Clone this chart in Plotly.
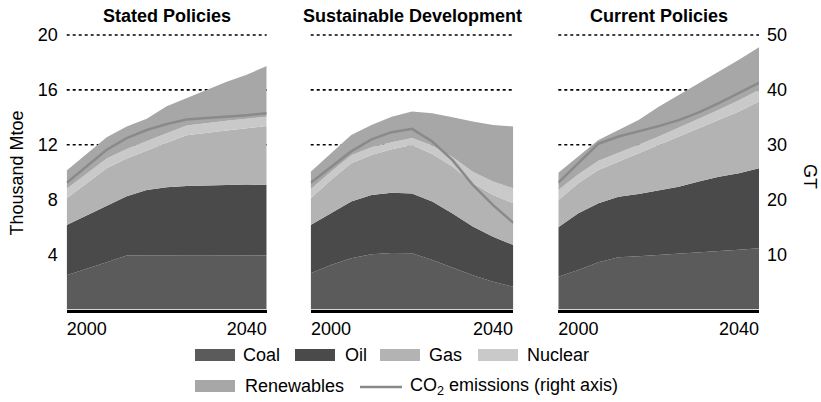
import plotly.graph_objects as go

# ---------------- data ----------------
years = [1995, 2000, 2005, 2010, 2015, 2020, 2025, 2030, 2035, 2040, 2045]
scenarios = ["Stated Policies", "Sustainable Development", "Current Policies"]
fuels = ["Coal", "Oil", "Gas", "Nuclear", "Renewables"]

# Thousand Mtoe
sp_coal = [2.5, 2.95, 3.45, 3.93, 3.95, 3.95, 3.95, 3.95, 3.95, 3.95, 3.93]
sp_oil = [3.66, 3.9, 4.15, 4.32, 4.75, 4.95, 5.05, 5.1, 5.13, 5.15, 5.15]
sp_gas = [1.94, 2.35, 2.7, 2.75, 2.9, 3.25, 3.7, 3.85, 3.97, 4.1, 4.29]
sp_nuclear = [0.7, 0.7, 0.7, 0.7, 0.7, 0.7, 0.7, 0.7, 0.7, 0.7, 0.68]
sp_renew = [1.32, 1.4, 1.55, 1.63, 1.6, 1.95, 2.0, 2.45, 2.85, 3.2, 3.7]
sp_co2 = [23.1, 26.1, 29.1, 31.2, 32.7, 33.8, 34.6, 34.9, 35.1, 35.4, 35.75]

sd_coal = [2.64, 3.25, 3.74, 4.02, 4.12, 4.1, 3.6, 3.07, 2.5, 2.03, 1.66]
sd_oil = [3.52, 3.75, 4.12, 4.33, 4.38, 4.35, 4.26, 3.93, 3.54, 3.27, 3.04]
sd_gas = [1.94, 2.44, 2.79, 2.91, 3.17, 3.54, 3.47, 3.41, 3.16, 3.05, 3.04]
sd_nuclear = [0.66, 0.6, 0.58, 0.56, 0.52, 0.5, 0.62, 0.7, 0.84, 0.97, 1.09]
sd_renew = [1.28, 1.34, 1.49, 1.63, 1.86, 1.93, 2.35, 2.89, 3.65, 4.13, 4.5]
sd_co2 = [23.1, 26.0, 28.8, 31.0, 32.3, 32.9, 30.6, 27.2, 22.7, 19.0, 15.8]

cp_coal = [2.39, 2.88, 3.45, 3.8, 3.88, 3.97, 4.05, 4.15, 4.25, 4.35, 4.47]
cp_oil = [3.6, 4.13, 4.29, 4.42, 4.54, 4.74, 4.9, 5.17, 5.43, 5.58, 5.82]
cp_gas = [1.99, 2.19, 2.43, 2.55, 2.96, 3.28, 3.65, 3.88, 4.13, 4.49, 4.86]
cp_nuclear = [0.73, 0.66, 0.66, 0.62, 0.62, 0.62, 0.64, 0.7, 0.75, 0.82, 0.85]
cp_renew = [1.26, 1.28, 1.52, 1.69, 1.81, 2.17, 2.39, 2.59, 2.77, 2.95, 3.11]
cp_co2 = [23.1, 26.6, 30.2, 31.5, 32.4, 33.4, 34.5, 35.9, 37.6, 39.4, 41.3]

left_ticks = [4, 8, 12, 16, 20]
grid_lines = [12, 16, 20]
right_ticks = [10, 20, 30, 40, 50]
x_ticks = [2000, 2040]

# ---------------- styling ----------------
W, H = 821, 402
OFF = 0
FONT = "Arial, Liberation Sans, Helvetica, sans-serif"
FS = 18
colors = {"Coal": "#5b5b5b", "Oil": "#4a4a4a", "Gas": "#b3b3b3",
          "Nuclear": "#c9c9c9", "Renewables": "#a7a7a7"}
co2_color = "#8a8a8a"

data = [
    (sp_coal, sp_oil, sp_gas, sp_nuclear, sp_renew, sp_co2),
    (sd_coal, sd_oil, sd_gas, sd_nuclear, sd_renew, sd_co2),
    (cp_coal, cp_oil, cp_gas, cp_nuclear, cp_renew, cp_co2),
]

def px_x(v):
    return (v - OFF) / W

def px_y(v):
    return (H - (v - OFF)) / H

panel_px = [(66.7, 266.7), (310.7, 513.3), (558.3, 759.0)]
# y range extends slightly above 20 so the top dotted grid line is fully drawn
YMAX = 20.12
PPU = (309.5 - 35.0) / 20.0
ydom = [px_y(309.5), px_y(309.5 - YMAX * PPU)]

fig = go.Figure()
shapes = []

for i, (vals, (x0, x1)) in enumerate(zip(data, panel_px)):
    n = i + 1
    xa = "x" if n == 1 else f"x{n}"
    ya = "y" if n == 1 else f"y{n}"
    ya2 = f"y{n + 3}"
    for fuel, v in zip(fuels, vals[:5]):
        fig.add_trace(go.Scatter(
            x=years, y=v, xaxis=xa, yaxis=ya, mode="lines",
            stackgroup=f"s{n}", line=dict(width=0, color=colors[fuel]),
            fillcolor=colors[fuel], showlegend=False, name=fuel))
    fig.add_trace(go.Scatter(
        x=years, y=vals[5], xaxis=xa, yaxis=ya2, mode="lines",
        line=dict(width=2.5, color=co2_color), showlegend=False,
        name="CO2 emissions"))

    # dotted gridlines drawn beneath the areas
    for g in grid_lines:
        shapes.append(dict(type="line", xref=f"{xa} domain", yref=ya,
                           x0=0, x1=1, y0=g, y1=g, layer="below",
                           line=dict(color="black", width=1.6, dash="dot")))

    xkey = "xaxis" if n == 1 else f"xaxis{n}"
    ykey = "yaxis" if n == 1 else f"yaxis{n}"
    fig.layout[xkey] = dict(
        domain=[px_x(x0), px_x(x1)], range=[years[0], years[-1]],
        anchor=ya, tickvals=x_ticks, ticktext=[str(t) for t in x_ticks],
        showgrid=False, zeroline=False, showline=True, linecolor="black",
        linewidth=3, ticks="", tickfont=dict(size=FS, color="black"),
        ticklabelstandoff=1, automargin=False)
    fig.layout[ykey] = dict(
        domain=ydom, range=[0, YMAX], anchor=xa, tickvals=left_ticks,
        showticklabels=(n == 1), showgrid=False, zeroline=False,
        showline=False, ticks="", tickfont=dict(size=FS, color="black"),
        ticklabelstandoff=8, automargin=False)
    fig.layout[f"yaxis{n + 3}"] = dict(
        overlaying=ya, range=[0, YMAX * 2.5], anchor=xa, side="right",
        tickvals=right_ticks, showticklabels=(n == 3), showgrid=False,
        zeroline=False, showline=False, ticks="",
        tickfont=dict(size=FS, color="black"), ticklabelstandoff=7,
        automargin=False)

annotations = []
for name, (x0, x1) in zip(scenarios, panel_px):
    annotations.append(dict(
        text=f"<b>{name}</b>", x=px_x((x0 + x1) / 2), y=px_y(16),
        xref="paper", yref="paper", xanchor="center", yanchor="middle",
        showarrow=False, font=dict(size=FS, color="black")))

annotations.append(dict(text="Thousand Mtoe", x=px_x(16.5), y=px_y(173),
                        xref="paper", yref="paper", textangle=-90,
                        xanchor="center", yanchor="middle", showarrow=False,
                        font=dict(size=FS, color="black")))
annotations.append(dict(text="GT", x=px_x(810), y=px_y(176),
                        xref="paper", yref="paper", textangle=90,
                        xanchor="center", yanchor="middle", showarrow=False,
                        font=dict(size=FS, color="black")))

# custom legend
legend_rows = [
    [("Coal", 195, 241), ("Oil", 295, 343), ("Gas", 380, 427), ("Nuclear", 478, 525)],
    [("Renewables", 195, 243)],
]
row_y = [355, 386]
for row, yc in zip(legend_rows, row_y):
    for fuel, sx, tx in row:
        shapes.append(dict(type="rect", xref="paper", yref="paper",
                           x0=px_x(sx), x1=px_x(sx + 40),
                           y0=px_y(yc + 6), y1=px_y(yc - 6),
                           fillcolor=colors[fuel], line=dict(width=0)))
        annotations.append(dict(text=fuel, x=px_x(tx), y=px_y(yc),
                                xref="paper", yref="paper", xanchor="left",
                                yanchor="middle", showarrow=False,
                                font=dict(size=FS, color="black")))
shapes.append(dict(type="line", xref="paper", yref="paper",
                   x0=px_x(360), x1=px_x(402), y0=px_y(387), y1=px_y(387),
                   line=dict(color=co2_color, width=2.5)))
annotations.append(dict(text="CO<sub>2</sub> emissions (right axis)",
                        x=px_x(408), y=px_y(386), xref="paper", yref="paper",
                        xanchor="left", yanchor="middle", showarrow=False,
                        font=dict(size=FS, color="black")))

fig.update_layout(
    template="none",
    width=W, height=H, margin=dict(l=0, r=0, t=0, b=0, autoexpand=False),
    paper_bgcolor="white", plot_bgcolor="white",
    font=dict(family=FONT, size=FS, color="black"),
    showlegend=False, annotations=annotations, shapes=shapes)

fig.write_html("out.html",
               config={"displayModeBar": False},
               post_script="document.body.style.margin='0px';")
